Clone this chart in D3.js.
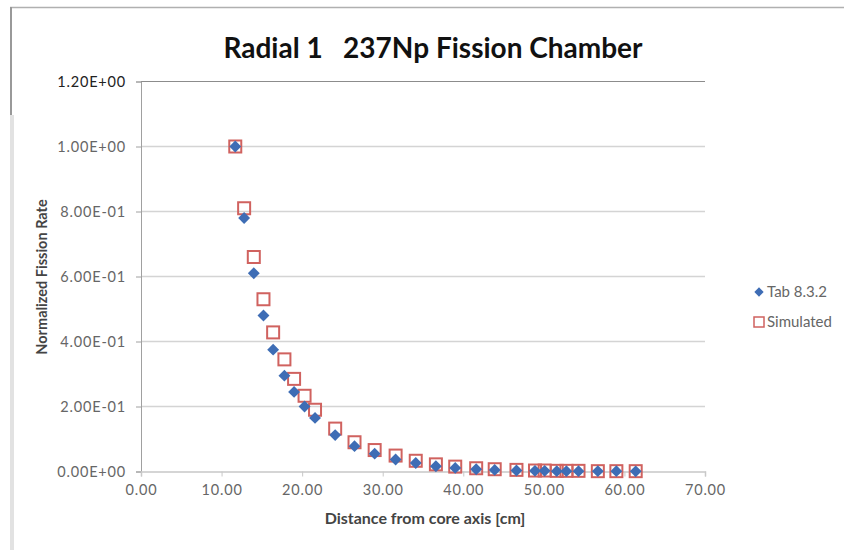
<!DOCTYPE html>
<html>
<head>
<meta charset="utf-8">
<script src="https://cdn.jsdelivr.net/npm/d3@7"></script>
<style>
  body { margin: 0; background: #fff; }
  svg { font-family: Lato, "Open Sans", sans-serif; }
</style>
</head>
<body>
<svg id="chart" width="844" height="550"></svg>
<script>
// distance from core axis [cm]
var distance = [11.7, 12.8, 14.0, 15.2, 16.4, 17.8, 19.0, 20.3, 21.6, 24.1, 26.5, 29.0, 31.6,
                34.1, 36.6, 39.0, 41.6, 43.9, 46.6, 48.9, 50.1, 51.6, 52.8, 54.3, 56.7, 59.0, 61.4];
var tabValues = [1.0, 0.78, 0.61, 0.48, 0.375, 0.295, 0.245, 0.2, 0.165, 0.112, 0.078, 0.055, 0.037,
                 0.026, 0.016, 0.011, 0.007, 0.005, 0.003, 0.002, 0.002, 0.001, 0.001, 0.001, 0.001, 0.001, 0.0005];
var simValues = [1.0, 0.81, 0.66, 0.53, 0.428, 0.345, 0.285, 0.233, 0.19, 0.132, 0.09, 0.066, 0.049,
                 0.033, 0.022, 0.015, 0.01, 0.007, 0.005, 0.003, 0.003, 0.002, 0.002, 0.002, 0.001, 0.001, 0.001];
var xTicks = [0, 10, 20, 30, 40, 50, 60, 70];
var yTicks = [0, 0.2, 0.4, 0.6, 0.8, 1.0, 1.2];
var seriesNames = ["Tab 8.3.2", "Simulated"];

(function(){
var svg = d3.select("#chart");

// chart frame
svg.append("line").attr("x1", 10).attr("y1", 7.5).attr("x2", 844).attr("y2", 7.5)
	.attr("stroke", "#b0b0b0").attr("stroke-width", 1.5);
svg.append("line").attr("x1", 11).attr("y1", 7).attr("x2", 11).attr("y2", 115)
	.attr("stroke", "#999").attr("stroke-width", 2);
svg.append("line").attr("x1", 12).attr("y1", 115).attr("x2", 12).attr("y2", 550)
	.attr("stroke", "#e2e2e2").attr("stroke-width", 4);

var plotLeft = 141, plotRight = 705, plotTop = 81.5, plotBottom = 471.5;

var x = d3.scaleLinear().domain([0, 70]).range([plotLeft, plotRight]);
var y = d3.scaleLinear().domain([0, 1.2]).range([plotBottom, plotTop]);

// gridlines
svg.append("g").selectAll("line")
	.data(yTicks.filter(function(d){ return d > 0; }))
	.enter().append("line")
		.attr("x1", plotLeft).attr("x2", plotRight)
		.attr("y1", function(d){ return y(d); })
		.attr("y2", function(d){ return y(d); })
		.attr("stroke", function(d){ return d == 1.2 ? "#8c8c8c" : "#d4d4d4"; })
		.attr("stroke-width", function(d){ return d == 1.2 ? 1 : 1.5; });

// y axis
var yAxis = svg.append("g")
	.attr("transform", "translate(" + plotLeft + ",0)")
	.call(d3.axisLeft(y).tickValues(yTicks).tickSize(5).tickPadding(10)
		.tickFormat(function(d){
			var s = d.toExponential(2).toUpperCase();
			return s.replace(/E([+-])(\d)$/, "E$10$2");
		}));
yAxis.select(".domain").attr("stroke", "#a0a0a0");
yAxis.selectAll(".tick line").attr("stroke", "#a0a0a0");
yAxis.selectAll("text").attr("fill", "#666").attr("font-size", 14.5)
	.attr("letter-spacing", 0.8).attr("font-family", "Lato");
yAxis.selectAll(".tick").filter(function(d){ return d == 1.2; }).select("text").attr("fill", "#222");

// x axis
var xAxis = svg.append("g")
	.attr("transform", "translate(0," + plotBottom + ")")
	.call(d3.axisBottom(x).tickValues(xTicks).tickSize(5).tickPadding(8)
		.tickFormat(d3.format(".2f")));
xAxis.select(".domain").attr("stroke", "#c8c8c8").attr("stroke-width", 1.5);
xAxis.selectAll(".tick line").attr("stroke", "#c8c8c8");
xAxis.selectAll("text").attr("fill", "#666").attr("font-size", 14.5)
	.attr("letter-spacing", 0.8).attr("font-family", "Lato");

// series: squares first, diamonds over them
var sq = 12;
svg.append("g").selectAll("rect")
	.data(d3.range(distance.length))
	.enter().append("rect")
		.attr("x", function(i){ return x(distance[i]) - sq/2; })
		.attr("y", function(i){ return y(simValues[i]) - sq/2; })
		.attr("width", sq).attr("height", sq)
		.attr("fill", "none")
		.attr("stroke", "#d0625f").attr("stroke-width", 2);

var diamond = d3.symbol().type(d3.symbolDiamond2).size(90);
svg.append("g").selectAll("path")
	.data(d3.range(distance.length))
	.enter().append("path")
		.attr("d", diamond)
		.attr("transform", function(i){ return "translate(" + x(distance[i]) + "," + y(tabValues[i]) + ")"; })
		.attr("fill", "#3e6db5");

// title
svg.append("text")
	.attr("x", 433).attr("y", 58)
	.attr("text-anchor", "middle")
	.attr("font-size", 28)
	.attr("font-weight", "bold")
	.attr("fill", "#111")
	.attr("xml:space", "preserve")
	.style("white-space", "pre")
	.text("Radial 1   237Np Fission Chamber");

// axis titles
svg.append("text")
	.attr("transform", "translate(47,277) rotate(-90)")
	.attr("text-anchor", "middle")
	.attr("font-size", 14.5).attr("font-weight", "bold").attr("fill", "#444")
	.text("Normalized Fission Rate");
svg.append("text")
	.attr("x", 425).attr("y", 524)
	.attr("text-anchor", "middle")
	.attr("font-size", 16).attr("font-weight", "bold").attr("fill", "#444")
	.text("Distance from core axis [cm]");

// legend
var legend = svg.append("g");
legend.append("path")
	.attr("d", d3.symbol().type(d3.symbolDiamond2).size(55))
	.attr("transform", "translate(759,292)")
	.attr("fill", "#3e6db5");
legend.append("rect")
	.attr("x", 754).attr("y", 317).attr("width", 10).attr("height", 10)
	.attr("fill", "none").attr("stroke", "#d0625f").attr("stroke-width", 1.5);
legend.selectAll("text")
	.data(seriesNames)
	.enter().append("text")
		.attr("x", 767)
		.attr("y", function(d, i){ return 297 + i*30; })
		.attr("font-size", 15).attr("fill", "#666")
		.text(function(d){ return d; });
})();
</script>
</body>
</html>
